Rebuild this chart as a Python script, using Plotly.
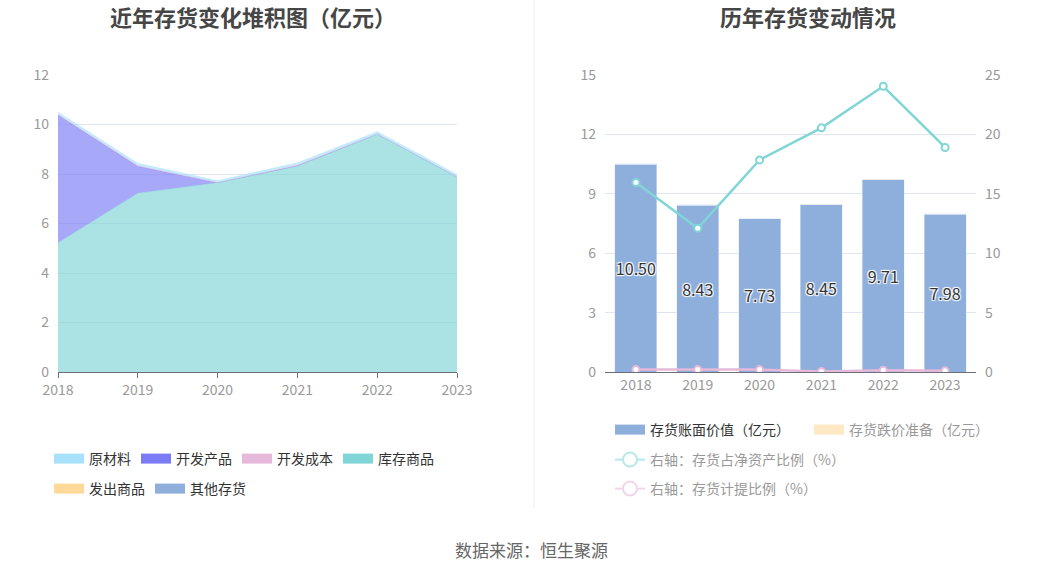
import plotly.graph_objects as go

years = ["2018", "2019", "2020", "2021", "2022", "2023"]

# left chart: stacked inventory composition (亿元)
kucun_shangpin = [5.22, 7.22, 7.65, 8.33, 9.61, 7.88]
kaifa_chanpin = [5.16, 1.09, 0.0, 0.0, 0.0, 0.0]
kaifa_chengben = [0.02, 0.02, 0.0, 0.03, 0.0, 0.0]
yuancailiao = [0.10, 0.10, 0.08, 0.09, 0.10, 0.10]
fachu_shangpin = [None] * 6
qita_cunhuo = [None] * 6

# right chart
book_value = [10.50, 8.43, 7.73, 8.45, 9.71, 7.98]
impairment = [0.02, 0.02, 0.02, 0.01, 0.02, 0.01]
pct_net_assets = [15.95, 12.1, 17.85, 20.55, 24.05, 18.9]
pct_provision = [0.2, 0.2, 0.2, 0.05, 0.15, 0.1]

FONT = "Noto Sans CJK SC"
W, H = 1062, 573


def px_x(p):
    return p / W


def px_y(p):
    return (H - p) / H


def rgba(hex_color, a):
    h = hex_color.lstrip("#")
    r, g, b = int(h[0:2], 16), int(h[2:4], 16), int(h[4:6], 16)
    return f"rgba({r},{g},{b},{a})"


fig = go.Figure()

# stacked areas, bottom to top
area_series = [
    ("库存商品", kucun_shangpin, "#80d5d7"),
    ("开发产品", kaifa_chanpin, "#7b7bf5"),
    ("开发成本", kaifa_chengben, "#e6b8da"),
    ("原材料", yuancailiao, "#a8e1fb"),
]
for name, vals, color in area_series:
    fig.add_trace(go.Scatter(
        x=years, y=vals, name=name, stackgroup="inv", mode="lines",
        line=dict(color=rgba(color, 0.8), width=0.5), fillcolor=rgba(color, 0.66),
        showlegend=False, xaxis="x", yaxis="y",
    ))
# series with no values
for name, vals, color in [("发出商品", fachu_shangpin, "#ffd99a"),
                          ("其他存货", qita_cunhuo, "#8eaedb")]:
    fig.add_trace(go.Scatter(
        x=years, y=vals, name=name, mode="lines", line=dict(color=color, width=1),
        showlegend=False, xaxis="x", yaxis="y",
    ))

fig.add_trace(go.Bar(
    x=years, y=book_value, name="存货账面价值（亿元）", marker_color="#8eaedb",
    text=[f"{v:.2f}" for v in book_value], textposition="inside", textangle=0,
    insidetextanchor="middle", constraintext="none",
    textfont=dict(size=16, color="#333333", family=FONT,
                  shadow="1px 1px 1px #fff, -1px -1px 1px #fff, 1px -1px 1px #fff, -1px 1px 1px #fff"),
    xaxis="x2", yaxis="y2", showlegend=False,
))
fig.add_trace(go.Bar(
    x=years, y=impairment, name="存货跌价准备（亿元）", marker_color="#ffe8c4",
    xaxis="x2", yaxis="y2", showlegend=False, hoverinfo="skip",
))
fig.add_trace(go.Scatter(
    x=years, y=pct_net_assets, name="右轴：存货占净资产比例（%）", mode="lines+markers",
    line=dict(color="#80d5d7", width=2.5),
    marker=dict(size=7, color="white", line=dict(color="#80d5d7", width=2)),
    xaxis="x2", yaxis="y3", showlegend=False,
))
fig.add_trace(go.Scatter(
    x=years, y=pct_provision, name="右轴：存货计提比例（%）", mode="lines+markers",
    line=dict(color="#e6b8da", width=2.5),
    marker=dict(size=7, color="white", line=dict(color="#e6b8da", width=2)),
    xaxis="x2", yaxis="y3", showlegend=False,
))

# legend-only entries (no data drawn)
proxies = [
    ("原材料", "box", "#a8e1fb", "legend"),
    ("开发产品", "box", "#7b7bf5", "legend"),
    ("开发成本", "box", "#e6b8da", "legend"),
    ("库存商品", "box", "#80d5d7", "legend"),
    ("发出商品", "box", "#ffd99a", "legend2"),
    ("其他存货", "box", "#8eaedb", "legend2"),
    ("存货账面价值（亿元）", "box", "#8eaedb", "legend3"),
    ("存货跌价准备（亿元）", "box", "#ffe8c4", "legend4"),
    ("右轴：存货占净资产比例（%）", "line", "#b8e8ea", "legend5"),
    ("右轴：存货计提比例（%）", "line", "#f1d6ea", "legend6"),
]
for name, kind, color, lg in proxies:
    if kind == "box":
        fig.add_trace(go.Scatter(
            x=[None], y=[None], name=name, mode="lines",
            line=dict(color=color, width=16),
            xaxis="x2", yaxis="y2", legend=lg, hoverinfo="skip",
        ))
    else:
        fig.add_trace(go.Scatter(
            x=[None], y=[None], name=name, mode="lines+markers",
            line=dict(color=color, width=2),
            marker=dict(size=14, color="white", line=dict(color=color, width=2)),
            xaxis="x2", yaxis="y3", legend=lg, hoverinfo="skip",
        ))

tick_font = dict(size=14, color="#999999", family=FONT)
grid = "#e0e6f1"
y_dom = [px_y(372), px_y(75)]

leg_common = dict(orientation="h", bgcolor="rgba(0,0,0,0)", yanchor="middle",
                  xanchor="left", itemsizing="trace", traceorder="normal")

fig.update_layout(
    width=W, height=H, margin=dict(l=0, r=0, t=0, b=0, autoexpand=False),
    paper_bgcolor="white", plot_bgcolor="white",
    font=dict(family=FONT, color="#333333"),
    barmode="stack", bargap=0.32,
    xaxis=dict(domain=[px_x(58), px_x(457)], type="category", range=[0, 5],
               showline=True, linecolor="#6e7079", ticks="outside", ticklen=5,
               tickcolor="#6e7079", tickfont=tick_font, showgrid=False, automargin=False),
    yaxis=dict(domain=y_dom, range=[0, 12], dtick=2, showgrid=True, gridcolor=grid,
               tickfont=tick_font, zeroline=False, ticks="", ticklabelstandoff=8,
               automargin=False),
    xaxis2=dict(domain=[px_x(605), px_x(976)], type="category", anchor="y2",
                showline=True, linecolor="#6e7079", tickfont=tick_font, showgrid=False,
                automargin=False),
    yaxis2=dict(domain=y_dom, range=[0, 15], dtick=3, anchor="x2", showgrid=True,
                gridcolor=grid, tickfont=tick_font, zeroline=False, ticklabelstandoff=8,
                automargin=False),
    yaxis3=dict(domain=y_dom, range=[0, 25], dtick=5, anchor="x2", overlaying="y2",
                side="right", showgrid=False, tickfont=tick_font, zeroline=False,
                ticklabelstandoff=8, automargin=False),
    legend=dict(**leg_common, x=px_x(49), y=px_y(459),
                font=dict(size=14, color="#333333", family=FONT)),
    legend2=dict(**leg_common, x=px_x(49), y=px_y(489),
                 font=dict(size=14, color="#333333", family=FONT)),
    legend3=dict(**leg_common, x=px_x(610), y=px_y(430),
                 font=dict(size=14, color="#333333", family=FONT)),
    legend4=dict(**leg_common, x=px_x(809), y=px_y(430),
                 font=dict(size=14, color="#999999", family=FONT)),
    legend5=dict(**leg_common, x=px_x(610), y=px_y(460),
                 font=dict(size=14, color="#999999", family=FONT)),
    legend6=dict(**leg_common, x=px_x(610), y=px_y(489),
                 font=dict(size=14, color="#999999", family=FONT)),
    annotations=[
        dict(text="<b>近年存货变化堆积图（亿元）</b>", x=px_x(253), y=px_y(16),
             xref="paper", yref="paper", showarrow=False, xanchor="center",
             yanchor="middle", font=dict(size=22, color="#464646", family=FONT)),
        dict(text="<b>历年存货变动情况</b>", x=px_x(808), y=px_y(16),
             xref="paper", yref="paper", showarrow=False, xanchor="center",
             yanchor="middle", font=dict(size=22, color="#464646", family=FONT)),
        dict(text="数据来源：恒生聚源", x=px_x(531), y=px_y(549), xref="paper",
             yref="paper", showarrow=False, xanchor="center", yanchor="middle",
             font=dict(size=17, color="#666666", family=FONT)),
    ],
    shapes=[
        dict(type="line", xref="paper", yref="paper", x0=px_x(534), x1=px_x(534),
             y0=px_y(508), y1=1, line=dict(color="#eeeeee", width=1)),
    ],
)

# drop the browser's default body margin so the figure starts at the page corner
fig.write_html("out.html", config={"displayModeBar": False},
               post_script="document.body.style.margin='0';")
